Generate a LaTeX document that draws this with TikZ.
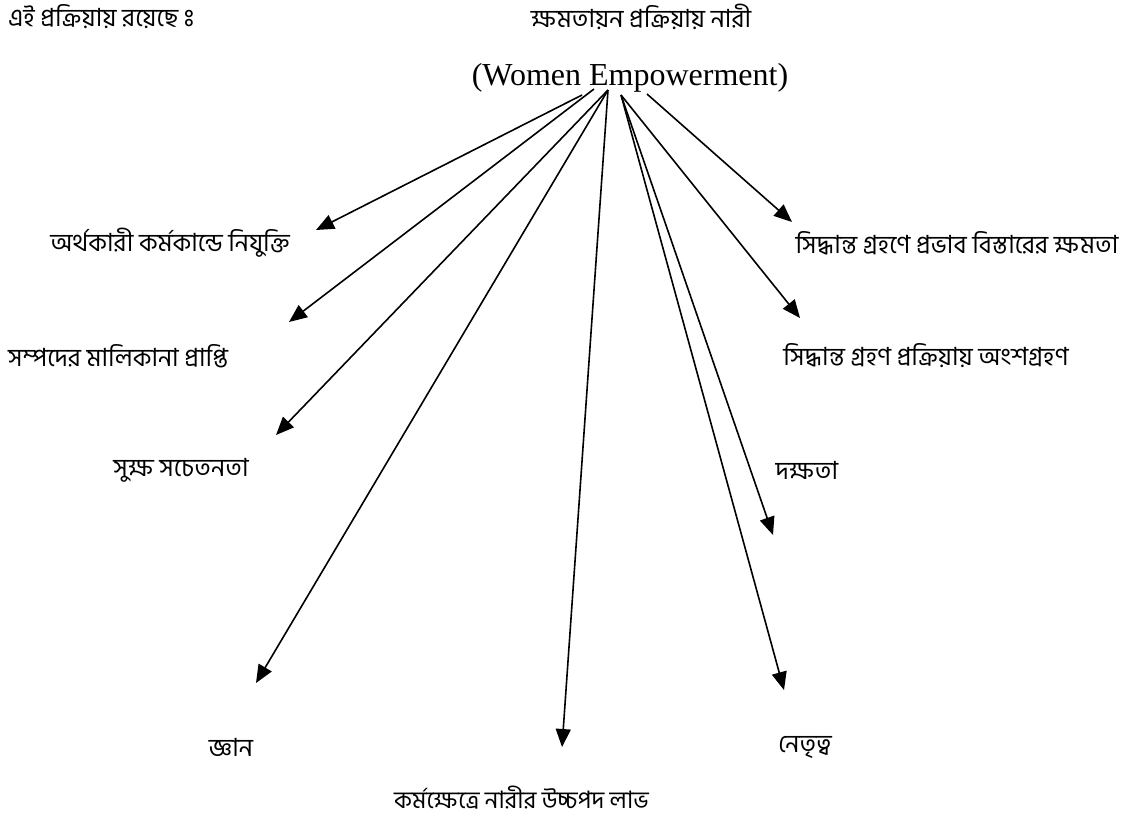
\documentclass[tikz,border=0pt]{standalone}
\usepackage{fontspec}
\setmainfont{Liberation Serif}
\newfontfamily\bnfont[Script=Bengali]{Hind Siliguri}
\usetikzlibrary{arrows.meta}
\tikzset{
  bn/.style={inner sep=0pt, font=\bnfont\fontsize{25}{30}\selectfont},
  en/.style={inner sep=0pt, font=\fontsize{32}{38}\selectfont},
  arr/.style={line width=1.6pt, -{Triangle[length=18pt,width=15pt]}}
}
\begin{document}
\begin{tikzpicture}[x=1pt,y=-1pt]
  \fill[white] (0,0) rectangle (1139,820);
  \useasboundingbox (0,0) rectangle (1139,820);

  % headings
  \node[bn, anchor=west] (intro) at (8,17) {এই প্রক্রিয়ায় রয়েছে^^^^00a0ঃ};
  \node[bn] (title) at (641,17) {ক্ষমতায়ন প্রক্রিয়ায় নারী};
  \node[en] (we) at (630,78) {(Women Empowerment)};

  % items
  \node[bn] (t1) at (170,243) {অর্থকারী কর্মকান্ডে নিযুক্তি};
  \node[bn, anchor=west] (t2) at (8,356) {সম্পদের মালিকানা প্রাপ্তি};
  \node[bn] (t3) at (181,470) {সুক্ষ সচেতনতা};
  \node[bn] (t4) at (231,747) {জ্ঞান};
  \node[bn, anchor=west, font=\bnfont\fontsize{24}{29}\selectfont] (t5) at (394,798) {কর্মক্ষেত্রে নারীর উচ্চপদ লাভ};
  \node[bn] (t6) at (805,747) {নেতৃত্ব};
  \node[bn] (t7) at (807,470) {দক্ষতা};
  \node[bn] (t8) at (926,356) {সিদ্ধান্ত গ্রহণ প্রক্রিয়ায় অংশগ্রহণ};
  \node[bn] (t9) at (957,243) {সিদ্ধান্ত গ্রহণে প্রভাব বিস্তারের ক্ষমতা};

  % arrow origins under the heading
  \coordinate (s1) at (582,95);
  \coordinate (s2) at (594,89);
  \coordinate (hub) at (608,90);
  \coordinate (s4) at (621,95);
  \coordinate (s5) at (647,94);

  % arrow tips above the items
  \coordinate (e1) at (316,230);
  \coordinate (e2) at (289,322);
  \coordinate (e3) at (276,435);
  \coordinate (e4) at (256,683);
  \coordinate (e5) at (562,747);
  \coordinate (e6) at (784,690);
  \coordinate (e7) at (773,535);
  \coordinate (e8) at (800,318);
  \coordinate (e9) at (792,222);

  \draw[arr] (s1) -- (e1);
  \draw[arr] (s2) -- (e2);
  \draw[arr] (hub) -- (e3);
  \draw[arr] (hub) -- (e4);
  \draw[arr] (hub) -- (e5);
  \draw[arr] (s4) -- (e6);
  \draw[arr] (s4) -- (e7);
  \draw[arr] (s4) -- (e8);
  \draw[arr] (s5) -- (e9);
\end{tikzpicture}
\end{document}
